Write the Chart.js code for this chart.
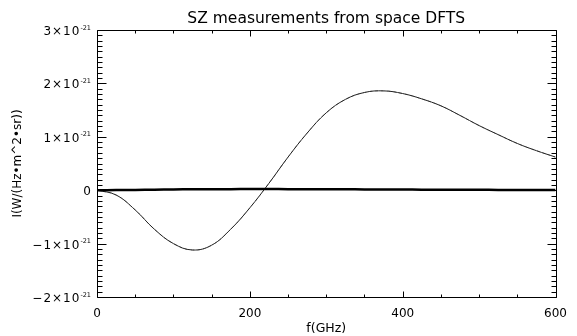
<!DOCTYPE html>
<html>
<head>
<meta charset="utf-8">
<script src="https://cdn.jsdelivr.net/npm/chart.js@4.4.0/dist/chart.umd.min.js"></script>
<style>
  html, body { margin: 0; padding: 0; background: #fff; }
  #c { display: block; }
</style>
</head>
<body>
<canvas id="c" width="577" height="336"></canvas>
<script>
// ---- data ----
const freqGHz = [0, 25, 50, 75, 100, 125, 150, 175, 200, 225, 250, 275, 300,
                 325, 350, 375, 400, 425, 450, 475, 500, 525, 550, 575, 600];
// thermal SZ intensity, W/(Hz m^2 sr)
const szSignal = [0, -0.09e-21, -0.37e-21, -0.73e-21, -1.00e-21, -1.12e-21, -1.03e-21,
                  -0.73e-21, -0.33e-21, 0.13e-21, 0.62e-21, 1.07e-21, 1.45e-21,
                  1.70e-21, 1.83e-21, 1.86e-21, 1.81e-21, 1.71e-21, 1.58e-21,
                  1.40e-21, 1.21e-21, 1.04e-21, 0.875e-21, 0.74e-21, 0.62e-21];
// model curve overlaid (dashed grey)
const szModel = [0, -0.09e-21, -0.37e-21, -0.73e-21, -1.00e-21, -1.12e-21, -1.03e-21,
                 -0.73e-21, -0.33e-21, 0.13e-21, 0.62e-21, 1.07e-21, 1.45e-21,
                 1.70e-21, 1.83e-21, 1.86e-21, 1.81e-21, 1.71e-21, 1.58e-21,
                 1.40e-21, 1.21e-21, 1.04e-21, 0.875e-21, 0.74e-21, 0.62e-21];
// small component near zero (thick line)
const kinetic = [0, 0.002e-21, 0.006e-21, 0.010e-21, 0.014e-21, 0.017e-21, 0.019e-21,
                 0.020e-21, 0.021e-21, 0.021e-21, 0.020e-21, 0.019e-21, 0.018e-21,
                 0.016e-21, 0.015e-21, 0.013e-21, 0.012e-21, 0.010e-21, 0.009e-21,
                 0.008e-21, 0.007e-21, 0.006e-21, 0.005e-21, 0.004e-21, 0.003e-21];

const titleText = 'SZ measurements from space DFTS';
const xTickValues = [0, 200, 400, 600];
const xTickLabels = ['0', '200', '400', '600'];
const yTickValues = [-2e-21, -1e-21, 0, 1e-21, 2e-21, 3e-21];
const yTickMantissas = ['\u22122\u00d710', '\u22121\u00d710', '0', '1\u00d710', '2\u00d710', '3\u00d710'];
const yTickExponents = ['-21', '-21', '', '-21', '-21', '-21'];
const xMinorStep = 50;
const yMinorStep = 1e-22;

const toXY = (arr) => arr.map((v, i) => ({ x: freqGHz[i], y: v }));
const FONT = 'DejaVu Sans';

// inward ticks, frame, title and y tick labels with superscript exponents
const framePlugin = {
  id: 'frame',
  afterDraw(chart) {
    const { ctx, chartArea: a, scales: { x, y } } = chart;
    ctx.save();
    ctx.strokeStyle = '#000';
    ctx.lineWidth = 1;
    ctx.beginPath();
    const L = Math.round(a.left) + 0.5, R = Math.round(a.right) + 0.5;
    const T = Math.round(a.top) + 0.5, B = Math.round(a.bottom) + 0.5;
    ctx.rect(L, T, R - L, B - T);
    for (let v = x.min; v <= x.max + 1e-9; v += xMinorStep) {
      const px = Math.round(x.getPixelForValue(v)) + 0.5;
      const major = xTickValues.some(t => Math.abs(t - v) < 1e-9);
      const len = major ? 6 : 3;
      ctx.moveTo(px, B); ctx.lineTo(px, B - len);
      ctx.moveTo(px, T); ctx.lineTo(px, T + len);
    }
    const n0 = Math.round(y.min / yMinorStep), n1 = Math.round(y.max / yMinorStep);
    for (let k = n0; k <= n1; k++) {
      const py = Math.round(y.getPixelForValue(k * yMinorStep)) + 0.5;
      const len = (k % 10 === 0) ? 9 : 5;
      ctx.moveTo(L, py); ctx.lineTo(L + len, py);
      ctx.moveTo(R, py); ctx.lineTo(R - len, py);
    }
    ctx.stroke();

    // title
    ctx.fillStyle = '#000';
    ctx.textAlign = 'center';
    ctx.textBaseline = 'alphabetic';
    ctx.font = '15.5px "' + FONT + '"';
    ctx.fillText(titleText, (a.left + a.right) / 2, 23);

    // y tick labels
    const rightEdge = a.left - 6;
    yTickValues.forEach((v, i) => {
      const py = y.getPixelForValue(v);
      const sup = yTickExponents[i];
      ctx.font = '6.5px "' + FONT + '"';
      try { ctx.letterSpacing = '0px'; } catch (e) {}
      const wSup = sup ? ctx.measureText(sup).width : 0;
      ctx.font = '12px "' + FONT + '"';
      try { ctx.letterSpacing = '1px'; } catch (e) {}
      const wMain = ctx.measureText(yTickMantissas[i]).width;
      ctx.textAlign = 'left';
      ctx.textBaseline = 'alphabetic';
      const x0 = rightEdge - wSup - wMain - (sup ? 0 : -1);
      ctx.fillText(yTickMantissas[i], x0, py + 5);
      if (sup) {
        ctx.font = '6.5px "' + FONT + '"';
        try { ctx.letterSpacing = '0px'; } catch (e) {}
        ctx.fillText(sup, rightEdge - wSup, py - 0.5);
      }
    });
    ctx.restore();
  }
};

new Chart(document.getElementById('c'), {
  type: 'line',
  data: {
    datasets: [
      { label: 'kinetic', data: toXY(kinetic), borderColor: '#000', borderWidth: 2.5,
        pointRadius: 0, tension: 0.4, fill: false },
      { label: 'signal', data: toXY(szSignal), borderColor: '#222', borderWidth: 1,
        pointRadius: 0, tension: 0.4, fill: false },
      { label: 'model', data: toXY(szModel), borderColor: '#999', borderWidth: 1,
        borderDash: [3, 3], pointRadius: 0, tension: 0.4, fill: false }
    ]
  },
  options: {
    responsive: false,
    animation: false,
    devicePixelRatio: 1,
    layout: { padding: { top: 30, right: 11, bottom: 0, left: 0 } },
    plugins: {
      legend: { display: false },
      tooltip: { enabled: false },
      title: { display: false }
    },
    scales: {
      x: {
        type: 'linear', min: 0, max: 600,
        grid: { display: false, drawTicks: false },
        border: { display: false },
        afterBuildTicks: (s) => { s.ticks = xTickValues.map(v => ({ value: v })); },
        afterFit: (s) => { s.height = 39; },
        ticks: {
          color: '#000', padding: 10, maxRotation: 0, autoSkip: false,
          font: { family: FONT, size: 12 },
          callback: (v, i) => xTickLabels[i]
        },
        title: {
          display: true, text: 'f(GHz)', color: '#000',
          font: { family: FONT, size: 12.5 }, padding: { top: 0, bottom: 0 }
        }
      },
      y: {
        type: 'linear', min: -2e-21, max: 3e-21,
        grid: { display: false, drawTicks: false },
        border: { display: false },
        afterBuildTicks: (s) => { s.ticks = yTickValues.map(v => ({ value: v })); },
        afterFit: (s) => { s.width = 97; },
        ticks: { display: false },
        title: {
          display: true, text: 'I(W/(Hz\u2022m^2\u2022sr))', color: '#000',
          font: { family: FONT, size: 12 }, padding: { top: 11, bottom: 0 }
        }
      }
    }
  },
  plugins: [framePlugin]
});
</script>
</body>
</html>
